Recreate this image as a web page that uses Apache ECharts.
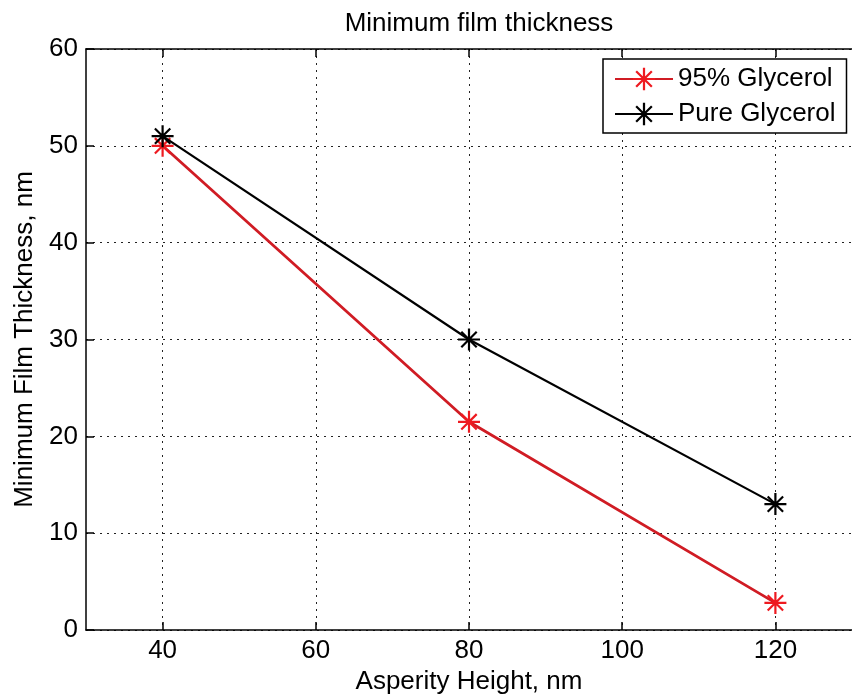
<!DOCTYPE html>
<html>
<head>
<meta charset="utf-8">
<title>Minimum film thickness</title>
<script src="https://cdn.jsdelivr.net/npm/echarts@6/dist/echarts.min.js"></script>
<style>
  html, body { margin: 0; padding: 0; background: #fff; }
  #chart { width: 852px; height: 700px; }
</style>
</head>
<body>
<div id="chart"></div>
<script>
// Asperity heights (nm) and measured minimum film thickness (nm)
const asperityHeight = [40, 80, 120];
const glycerol95 = [50, 21.5, 2.8];
const glycerolPure = [51, 30, 13];
const xTickValues = [40, 60, 80, 100, 120];
const seriesNames = ['95% Glycerol', 'Pure Glycerol'];

// asterisk marker: vertical, horizontal and two diagonal bars
const ASTERISK = 'path://M-1,-10L1,-10L1,10L-1,10Z' +
  'M-10,-1L10,-1L10,1L-10,1Z' +
  'M-7.7,-6.3L-6.3,-7.7L7.7,6.3L6.3,7.7Z' +
  'M6.3,-7.7L7.7,-6.3L-6.3,7.7L-7.7,6.3Z';

const FONT = '"Liberation Sans", Arial, Helvetica, sans-serif';
const pairs = (xs, ys) => xs.map((x, i) => [x, ys[i]]);

const chart = echarts.init(document.getElementById('chart'), null, { renderer: 'canvas' });

const gridLine = { show: true, lineStyle: { color: '#222', width: 1, type: [2, 5] } };

chart.setOption({
  animation: false,
  backgroundColor: '#fff',
  textStyle: { fontFamily: FONT },
  title: {
    text: 'Minimum film thickness',
    left: 474,
    textAlign: 'center',
    top: 6,
    textStyle: { fontFamily: FONT, fontSize: 26, fontWeight: 'normal', color: '#000' }
  },
  grid: { left: 86, top: 49, right: -10, bottom: 70, containLabel: false },
  legend: {
    orient: 'vertical',
    left: 603,
    top: 59,
    padding: [7, 11, 6, 11],
    itemGap: 9,
    itemWidth: 58,
    itemHeight: 28,
    backgroundColor: '#fff',
    borderColor: '#000',
    borderWidth: 1.5,
    borderRadius: 0,
    data: seriesNames,
    textStyle: { fontFamily: FONT, fontSize: 26, color: '#000' }
  },
  xAxis: [
    {
      type: 'value',
      min: 30,
      max: 130,
      name: 'Asperity Height, nm',
      nameLocation: 'middle',
      nameGap: 39,
      nameTextStyle: { fontFamily: FONT, fontSize: 26, color: '#000' },
      axisLine: { show: true, onZero: false, lineStyle: { color: '#000', width: 1.5 } },
      axisTick: { show: true, inside: true, length: 8, customValues: xTickValues,
                  lineStyle: { color: '#000', width: 1.5 } },
      axisLabel: { show: true, margin: 8, customValues: xTickValues,
                   fontFamily: FONT, fontSize: 26, color: '#000' },
      splitLine: gridLine
    },
    {
      type: 'value',
      position: 'top',
      min: 30,
      max: 130,
      axisLine: { show: true, onZero: false, lineStyle: { color: '#000', width: 1.5 } },
      axisTick: { show: true, inside: true, length: 8, customValues: xTickValues,
                  lineStyle: { color: '#000', width: 1.5 } },
      axisLabel: { show: false },
      splitLine: { show: false }
    }
  ],
  yAxis: {
    type: 'value',
    min: 0,
    max: 60,
    interval: 10,
    name: 'Minimum Film Thickness, nm',
    nameLocation: 'middle',
    nameGap: 36,
    nameTextStyle: { fontFamily: FONT, fontSize: 26, color: '#000' },
    axisLine: { show: true, onZero: false, lineStyle: { color: '#000', width: 1.5 } },
    axisTick: { show: true, inside: true, length: 8, lineStyle: { color: '#000', width: 1.5 } },
    axisLabel: { show: true, margin: 8, fontFamily: FONT, fontSize: 26, color: '#000' },
    splitLine: gridLine
  },
  series: [
    {
      name: seriesNames[0],
      type: 'line',
      data: pairs(asperityHeight, glycerol95),
      symbol: ASTERISK,
      symbolSize: 22,
      lineStyle: { color: '#d01c24', width: 2.8 },
      itemStyle: { color: '#ee1a20' },
      z: 3
    },
    {
      name: seriesNames[1],
      type: 'line',
      data: pairs(asperityHeight, glycerolPure),
      symbol: ASTERISK,
      symbolSize: 22,
      lineStyle: { color: '#000', width: 2.2 },
      itemStyle: { color: '#000' },
      z: 4
    }
  ]
});
</script>
</body>
</html>
